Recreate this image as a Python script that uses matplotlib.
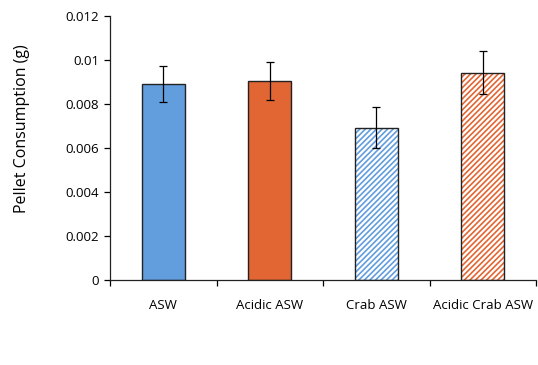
import matplotlib
matplotlib.use("Agg")
import matplotlib.pyplot as plt
import numpy as np

categories = ["ASW", "Acidic ASW", "Crab ASW", "Acidic Crab ASW"]
values = [0.00890, 0.00905, 0.00693, 0.00943]
errors = [0.00082, 0.00088, 0.00093, 0.00098]
yticks = [0, 0.002, 0.004, 0.006, 0.008, 0.01, 0.012]
ytick_labels = ["0", "0.002", "0.004", "0.006", "0.008", "0.01", "0.012"]

colors = ["#629ddd", "#e26633", "#629ddd", "#e26633"]
hatched = [False, False, True, True]

plt.rcParams['font.family'] = ['Open Sans', 'DejaVu Sans']
plt.rcParams['hatch.linewidth'] = 1.2

fig = plt.figure(figsize=(5.38, 3.65), dpi=100)
ax = fig.add_axes([0.2045, 0.2329, 0.7918, 0.7231])

x = np.arange(len(categories))
w = 0.4
for xi, v, c, h in zip(x, values, colors, hatched):
    if h:
        ax.bar(xi, v, width=w, facecolor="white", edgecolor=c, hatch="//////", linewidth=0, zorder=2)
        ax.bar(xi, v, width=w, fill=False, edgecolor="#222222", linewidth=1.0, zorder=3)
    else:
        ax.bar(xi, v, width=w, facecolor=c, edgecolor="#222222", linewidth=1.0, zorder=2)

ax.errorbar(x, values, yerr=errors, fmt="none", ecolor="black", elinewidth=0.9, capsize=3, capthick=0.9, zorder=4)

ax.set_xlim(-0.5, len(categories) - 0.5)
ax.set_ylim(0, 0.012)
ax.set_yticks(yticks)
ax.set_yticklabels(ytick_labels)
ax.set_xticks(x)
ax.set_xticklabels(categories)
ax.set_xticks(np.arange(-0.5, len(categories), 1.0), minor=True)
ax.tick_params(axis='x', which='major', length=0, pad=14, labelsize=9.5)
ax.tick_params(axis='x', which='minor', length=4, direction='out', width=0.9)
ax.tick_params(axis='y', length=4, width=0.9, labelsize=9.5, pad=4)
ax.set_ylabel("Pellet Consumption (g)", fontsize=11.5)
ax.yaxis.set_label_coords(-0.207, 0.572)
ax.yaxis.label.set_va("center")

for s in ["top", "right"]:
    ax.spines[s].set_visible(False)
for s in ["left", "bottom"]:
    ax.spines[s].set_linewidth(0.9)
    ax.spines[s].set_color("#222222")

fig.savefig("out.png", dpi=100)
